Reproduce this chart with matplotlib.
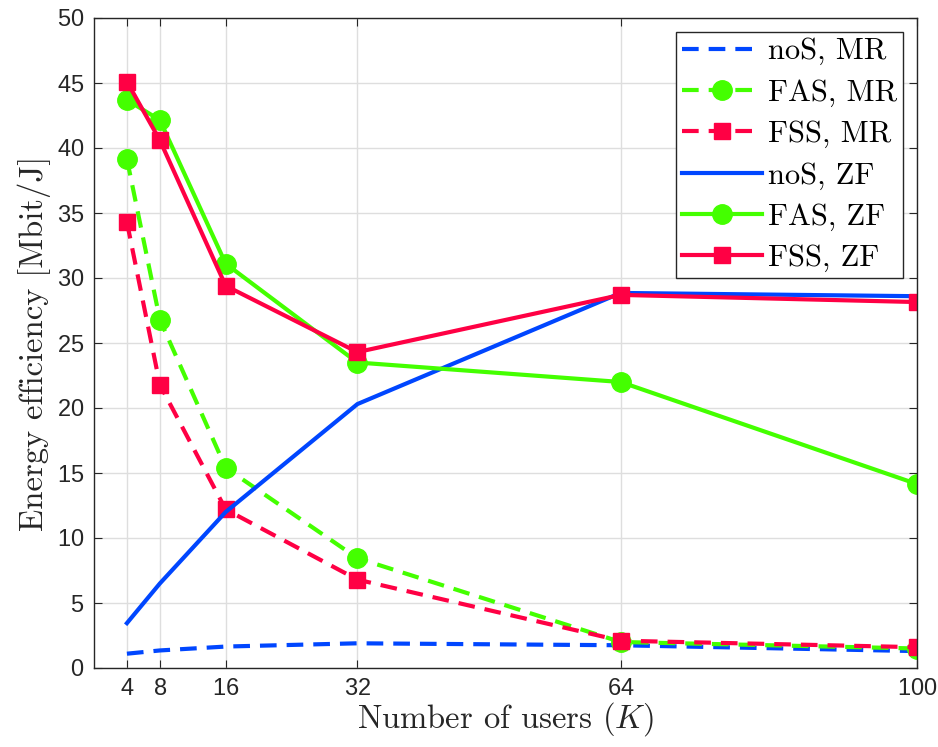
import numpy as np
import matplotlib
matplotlib.use('Agg')
import matplotlib.pyplot as plt

# Data
users = [4, 8, 16, 32, 64, 100]

nos_mr = [1.1, 1.35, 1.65, 1.9, 1.75, 1.3]
fas_mr = [39.15, 26.8, 15.4, 8.45, 2.0, 1.5]
fss_mr = [34.3, 21.8, 12.2, 6.8, 2.1, 1.6]
nos_zf = [3.45, 6.5, 12.0, 20.3, 28.85, 28.6]
fas_zf = [43.7, 42.15, 31.1, 23.5, 22.0, 14.15]
fss_zf = [45.1, 40.6, 29.4, 24.3, 28.7, 28.15]

x_ticks = [4, 8, 16, 32, 64, 100]
y_ticks = np.arange(0, 51, 5)

plt.rcParams['font.family'] = 'cmr10'
plt.rcParams['mathtext.fontset'] = 'cm'
plt.rcParams['axes.formatter.use_mathtext'] = True

blue = '#0046ff'
green = '#44ff00'
red = '#ff0044'
dark = '#262626'

fig = plt.figure(figsize=(9.38, 7.47), dpi=100)
ax = fig.add_axes([94 / 938, (747 - 668) / 747, (917 - 94) / 938, (668 - 18) / 747])

lw = 3.0
dash = (4, 2.4)
ax.plot(users, nos_mr, '--', dashes=dash, color=blue, linewidth=lw, label='noS, MR')
ax.plot(users, fas_mr, '--', dashes=dash, color=green, linewidth=lw, marker='o', markersize=14, label='FAS, MR')
ax.plot(users, fss_mr, '--', dashes=dash, color=red, linewidth=lw, marker='s', markersize=11.5, label='FSS, MR')
ax.plot(users, nos_zf, '-', color=blue, linewidth=lw, label='noS, ZF')
ax.plot(users, fas_zf, '-', color=green, linewidth=lw, marker='o', markersize=14, label='FAS, ZF')
ax.plot(users, fss_zf, '-', color=red, linewidth=lw, marker='s', markersize=11.5, label='FSS, ZF')

ax.set_xlim(0, 100)
ax.set_ylim(0, 50)
ax.set_xticks(x_ticks)
ax.set_yticks(y_ticks)
ax.grid(True, color='#dedede', linewidth=1)
ax.set_axisbelow(True)
ax.tick_params(direction='in', top=True, right=True, length=6,
               color=dark, labelcolor=dark, pad=7)
for lbl in ax.get_xticklabels() + ax.get_yticklabels():
    lbl.set_fontfamily('Liberation Sans')
    lbl.set_fontsize(17)
for s in ax.spines.values():
    s.set_color(dark)
    s.set_linewidth(1)

ax.set_xlabel('Number of users ($K$)', fontsize=23.5, color=dark, labelpad=0)
ax.set_ylabel('Energy efficiency [Mbit/J]', fontsize=23.5, color=dark, labelpad=4)

leg = ax.legend(loc='upper right', fontsize=22, fancybox=False, framealpha=1,
                edgecolor=dark, handlelength=2.6, borderpad=0.2,
                labelspacing=0.45, handletextpad=0.2, borderaxespad=0.45)
leg.get_frame().set_linewidth(1)

fig.savefig('out.png', dpi=100)
